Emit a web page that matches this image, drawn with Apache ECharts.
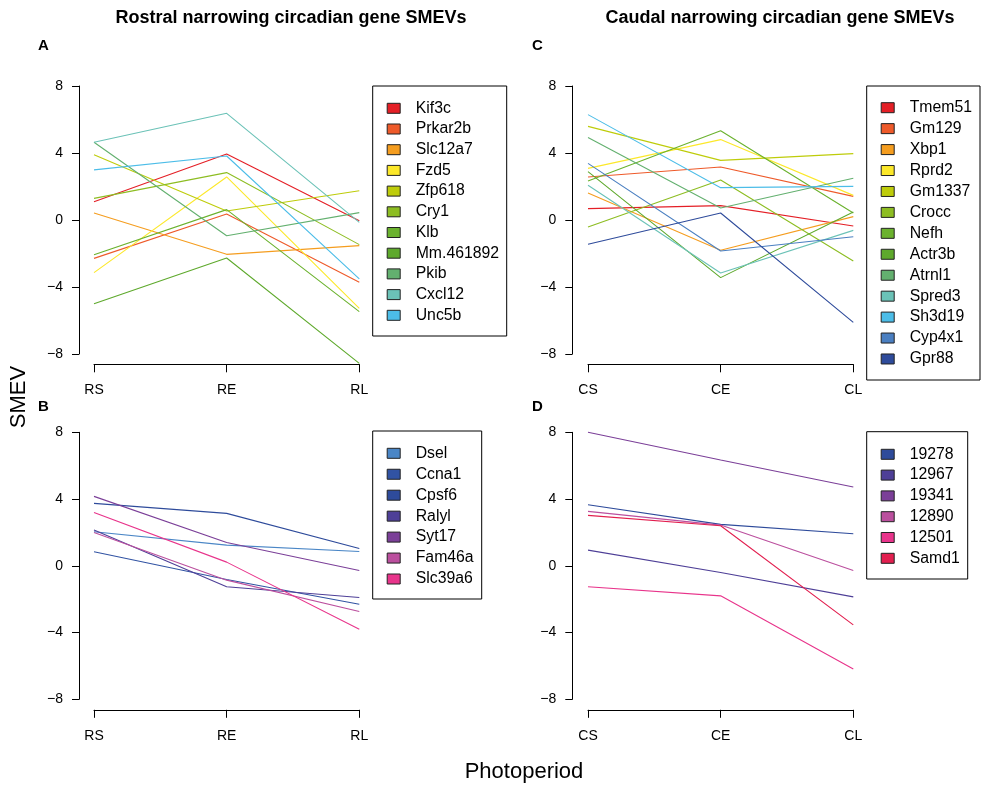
<!DOCTYPE html>
<html>
<head>
<meta charset="utf-8">
<script src="https://cdn.jsdelivr.net/npm/echarts@6/dist/echarts.min.js"></script>
<style>html,body{margin:0;padding:0;background:#fff}#c{width:995px;height:785px}</style>
</head>
<body>
<div id="c"></div>
<script>
// ---- data ----
const rostralTicks = ['RS', 'RE', 'RL'];
const caudalTicks = ['CS', 'CE', 'CL'];
const yTicks = [-8, -4, 0, 4, 8];

const genesA = ['Kif3c', 'Prkar2b', 'Slc12a7', 'Fzd5', 'Zfp618', 'Cry1', 'Klb', 'Mm.461892', 'Pkib', 'Cxcl12', 'Unc5b'];
const valuesA = [
  [1.09, 3.94, -0.05],
  [-2.29, 0.36, -3.72],
  [0.42, -2.05, -1.53],
  [-3.14, 2.57, -5.27],
  [3.90, 0.54, 1.75],
  [1.29, 2.83, -1.47],
  [-2.07, 0.62, -5.47],
  [-5.00, -2.27, -8.56],
  [4.64, -0.94, 0.44],
  [4.64, 6.37, -0.14],
  [2.99, 3.82, -3.52]
];

const genesB = ['Dsel', 'Ccna1', 'Cpsf6', 'Ralyl', 'Syt17', 'Fam46a', 'Slc39a6'];
const valuesB = [
  [2.04, 1.24, 0.86],
  [0.84, -0.82, -2.30],
  [3.74, 3.14, 1.04],
  [2.14, -1.26, -1.90],
  [4.16, 1.40, -0.28],
  [2.00, -0.86, -2.74],
  [3.20, 0.22, -3.80]
];

const genesC = ['Tmem51', 'Gm129', 'Xbp1', 'Rprd2', 'Gm1337', 'Crocc', 'Nefh', 'Actr3b', 'Atrnl1', 'Spred3', 'Sh3d19', 'Cyp4x1', 'Gpr88'];
const valuesC = [
  [0.68, 0.86, -0.36],
  [2.57, 3.16, 1.41],
  [1.61, -1.81, 0.20],
  [3.08, 4.80, 1.47],
  [5.59, 3.56, 3.96],
  [-0.42, 2.39, -2.45],
  [2.33, 5.33, 0.42],
  [2.89, -3.44, 0.48],
  [4.92, 0.72, 2.49],
  [2.07, -3.16, -0.62],
  [6.29, 1.93, 2.01],
  [3.38, -1.85, -1.00],
  [-1.45, 0.42, -6.11]
];

const genesD = ['19278', '12967', '19341', '12890', '12501', 'Samd1'];
const valuesD = [
  [3.66, 2.48, 1.92],
  [0.94, -0.40, -1.86],
  [8.00, 6.34, 4.72],
  [3.26, 2.44, -0.28],
  [-1.26, -1.80, -6.19],
  [3.02, 2.40, -3.54]
];

// ---- styles ----
const colorsA = ['#E41F26', '#EE5A2A', '#F59D1F', '#FCE82A', '#BECC0A', '#8DBD22', '#6BB22E', '#5EA92C', '#63B06F', '#6BC2B7', '#4CBDE8'];
const colorsB = ['#4A86C6', '#3153A3', '#2E4B9B', '#4E3F97', '#7B3F98', '#BB4F9E', '#E8348B'];
const colorsC = ['#E41F26', '#EE5A2A', '#F59D1F', '#FCE82A', '#BECC0A', '#8DBD22', '#6BB22E', '#5EA92C', '#63B06F', '#6BC2B7', '#4CBDE8', '#4A7FC1', '#2E4B9B'];
const colorsD = ['#2E4B9B', '#4E3F97', '#7B3F98', '#BB4F9E', '#E8348B', '#E21F4F'];

const FONT = '"Liberation Sans", Arial, Helvetica, sans-serif';

const panels = [
  {genes: genesA, values: valuesA, colors: colorsA, ticks: rostralTicks,
   grid: {left: 94, top: 86, width: 265.3, height: 268}, yOff: 15, xOff: 10.3,
   legend: {x: 372.7, y: 86, w: 134, h: 250, first: 108.3, step: 20.7}},
  {genes: genesB, values: valuesB, colors: colorsB, ticks: rostralTicks,
   grid: {left: 94, top: 432.3, width: 265.3, height: 267}, yOff: 15, xOff: 10.5,
   legend: {x: 372.7, y: 431, w: 109, h: 168, first: 453.3, step: 20.95}},
  {genes: genesC, values: valuesC, colors: colorsC, ticks: caudalTicks,
   grid: {left: 588, top: 86, width: 265.3, height: 268}, yOff: 15.7, xOff: 10.3,
   legend: {x: 866.7, y: 86, w: 113.3, h: 294, first: 107.7, step: 20.94}},
  {genes: genesD, values: valuesD, colors: colorsD, ticks: caudalTicks,
   grid: {left: 588, top: 432.3, width: 265.3, height: 267}, yOff: 15.7, xOff: 10.5,
   legend: {x: 866.7, y: 431.7, w: 101, h: 147.3, first: 454.3, step: 20.8}}
];

const grids = [], xAxes = [], yAxes = [], series = [], graphics = [];
const axisLine = {show: true, onZero: false, lineStyle: {color: '#000', width: 1}};
panels.forEach((p, i) => {
  grids.push(Object.assign({outerBoundsMode: 'none', containLabel: false}, p.grid));
  xAxes.push({
    gridIndex: i, type: 'category', data: p.ticks, boundaryGap: false,
    position: 'bottom', offset: p.xOff,
    axisLine: axisLine,
    axisTick: {show: true, length: 8, inside: false, lineStyle: {color: '#000'}},
    axisLabel: {color: '#000', fontSize: 14, fontFamily: FONT, margin: 19},
    splitLine: {show: false}
  });
  yAxes.push({
    gridIndex: i, type: 'value', min: yTicks[0], max: yTicks[yTicks.length - 1], interval: 4,
    position: 'left', offset: p.yOff,
    axisLine: axisLine,
    axisTick: {show: true, length: 7, inside: false, lineStyle: {color: '#000'}},
    axisLabel: {color: '#000', fontSize: 14, fontFamily: FONT, margin: 16,
      formatter: v => String(v).replace('-', '\u2212')},
    splitLine: {show: false}
  });
  p.genes.forEach((g, k) => {
    series.push({
      type: 'line', name: g, xAxisIndex: i, yAxisIndex: i,
      data: p.values[k], symbol: 'none', clip: false, silent: true,
      lineStyle: {color: p.colors[k], width: 1.1}, itemStyle: {color: p.colors[k]}
    });
  });
  const L = p.legend;
  graphics.push({type: 'rect', shape: {x: L.x, y: L.y, width: L.w, height: L.h},
    style: {fill: '#fff', stroke: '#000', lineWidth: 1}, z: 10});
  p.genes.forEach((g, k) => {
    const cy = L.first + k * L.step;
    graphics.push({type: 'rect', shape: {x: L.x + 14.5, y: cy - 5, width: 13, height: 10},
      style: {fill: p.colors[k], stroke: '#222', lineWidth: 1}, z: 11});
    graphics.push({type: 'text', x: L.x + 43, y: cy,
      style: {text: g, fill: '#000', font: '15.8px ' + FONT, textVerticalAlign: 'middle', verticalAlign: 'middle'}, z: 11});
  });
});

// titles & labels
const texts = [
  {t: 'Rostral narrowing circadian gene SMEVs', x: 291, y: 18, bold: true, size: 18, align: 'center'},
  {t: 'Caudal narrowing circadian gene SMEVs', x: 780, y: 18, bold: true, size: 18, align: 'center'},
  {t: 'A', x: 38, y: 46, bold: true, size: 15, align: 'left'},
  {t: 'B', x: 38, y: 407, bold: true, size: 15, align: 'left'},
  {t: 'C', x: 532, y: 46, bold: true, size: 15, align: 'left'},
  {t: 'D', x: 532, y: 407, bold: true, size: 15, align: 'left'},
  {t: 'Photoperiod', x: 524, y: 772, bold: false, size: 22, align: 'center'}
];
texts.forEach(o => graphics.push({type: 'text', x: o.x, y: o.y,
  style: {text: o.t, fill: '#000', font: (o.bold ? 'bold ' : '') + o.size + 'px ' + FONT,
    textAlign: o.align, align: o.align, textVerticalAlign: 'middle', verticalAlign: 'middle'}}));
graphics.push({type: 'text', x: 19, y: 397, rotation: Math.PI / 2,
  style: {text: 'SMEV', fill: '#000', font: '22px ' + FONT, textAlign: 'center', align: 'center',
    textVerticalAlign: 'middle', verticalAlign: 'middle'}});

const chart = echarts.init(document.getElementById('c'), null, {renderer: 'canvas'});
chart.setOption({
  animation: false,
  backgroundColor: '#fff',
  grid: grids, xAxis: xAxes, yAxis: yAxes, series: series,
  graphic: graphics
});
</script>
</body>
</html>
